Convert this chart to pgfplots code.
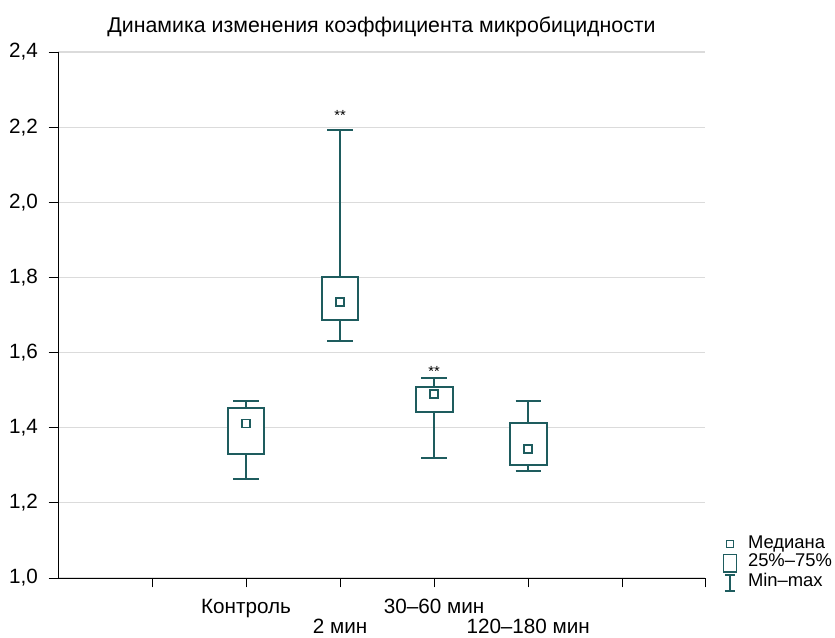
\documentclass[border=0pt]{standalone}
\usepackage{fontspec}
\setmainfont{Liberation Sans}
\usepackage{pgfplots}
\pgfplotsset{compat=1.18}
\usepgfplotslibrary{statistics}
\definecolor{tealc}{RGB}{30,92,94}
\begin{document}
\begin{tikzpicture}
\path[use as bounding box] (-43.5pt,-44.25pt) rectangle (582.75pt,433.5pt);
\begin{axis}[
  at={(0,0)}, anchor=south west,
  scale only axis, width=485.25pt, height=394.5pt,
  xmin=0, xmax=6.88, ymin=1, ymax=2.4,
  axis lines*=left,
  axis line style={black, line width=0.6pt},
  tick align=outside,
  major tick length=7pt,
  tick style={black, line width=0.6pt},
  ytick={1,1.2,...,2.41},
  ymajorgrids,
  grid style={gray!28, line width=0.9pt},
  xtick={1,2,4,6,6.88},
  xticklabels={,Контроль,30–60 мин,,},
  extra x ticks={3,5},
  extra x tick labels={2 мин,120–180 мин},
  extra x tick style={tick label style={yshift=-15pt}, grid=none},
  xticklabel style={anchor=base, yshift=-19.25pt},
  yticklabel style={xshift=-4.5pt},
  tick label style={font=\fontsize{15.5}{18}\selectfont},
  /pgf/number format/.cd, use comma, fixed, fixed zerofill, precision=1, assume math mode=true,
  /pgfplots/.cd,
  title={Динамика изменения коэффициента микробицидности},
  title style={font=\fontsize{16}{18}\selectfont, at={(0.5,1)}, anchor=center, yshift=12.75pt},
  boxplot/draw direction=y,
  boxplot/draw/median/.code={},
  legend style={draw=none, fill=none, font=\fontsize{13.8}{16}\selectfont,
    at={(1,0.0824)}, anchor=north west, xshift=10pt, row sep=0.5pt, column sep=5pt, inner sep=0pt,
    nodes={text height=10pt, text depth=3.5pt, inner sep=0pt}},
  legend cell align=left,
]
\addlegendimage{legend image code/.code={\path[draw=none] (0,0) -- (0.6cm,0);
  \draw[tealc, line width=1.2pt, fill=white] (0.3cm,0) +(-2.6pt,-2.6pt) rectangle +(2.6pt,2.6pt);}}
\addlegendentry{Медиана}
\addlegendimage{legend image code/.code={\path[draw=none] (0,0) -- (0.6cm,0);
  \draw[tealc, line width=1.2pt, fill=white] (0.3cm,0) +(-5pt,-7pt) rectangle +(5pt,6pt);}}
\addlegendentry{25\%–75\%}
\addlegendimage{legend image code/.code={\path[draw=none] (0,0) -- (0.6cm,0);
  \draw[tealc, line width=1.1pt] (0.3cm,-6.5pt) -- (0.3cm,5.5pt) (0.3cm,-6.5pt) +(-3.8pt,0) -- +(3.8pt,0) (0.3cm,5.5pt) +(-3.8pt,0) -- +(3.8pt,0);}}
\addlegendentry{Min–max}

\addplot[forget plot, draw=tealc, fill=white, line width=1.5pt,
  boxplot prepared={draw position=2, lower whisker=1.263, lower quartile=1.330,
    median=1.411, upper quartile=1.453, upper whisker=1.471, box extend=0.39, whisker extend=0.27}]
  coordinates {};
\addplot[forget plot, draw=tealc, fill=white, line width=1.5pt,
  boxplot prepared={draw position=3, lower whisker=1.632, lower quartile=1.686,
    median=1.735, upper quartile=1.801, upper whisker=2.192, box extend=0.39, whisker extend=0.27}]
  coordinates {};
\addplot[forget plot, draw=tealc, fill=white, line width=1.5pt,
  boxplot prepared={draw position=4, lower whisker=1.319, lower quartile=1.441,
    median=1.489, upper quartile=1.508, upper whisker=1.532, box extend=0.39, whisker extend=0.27}]
  coordinates {};
\addplot[forget plot, draw=tealc, fill=white, line width=1.5pt,
  boxplot prepared={draw position=5, lower whisker=1.284, lower quartile=1.300,
    median=1.344, upper quartile=1.412, upper whisker=1.470, box extend=0.39, whisker extend=0.27}]
  coordinates {};
\addplot[forget plot, only marks, mark=square*, mark size=3pt,
  mark options={fill=white, draw=tealc, line width=1.3pt}]
  coordinates {(2,1.411) (3,1.735) (4,1.489) (5,1.344)};
\node[font=\fontsize{11}{13}\selectfont] at (axis cs:3,2.230) {**};
\node[font=\fontsize{11}{13}\selectfont] at (axis cs:4,1.550) {**};
\end{axis}
\end{tikzpicture}
\end{document}
